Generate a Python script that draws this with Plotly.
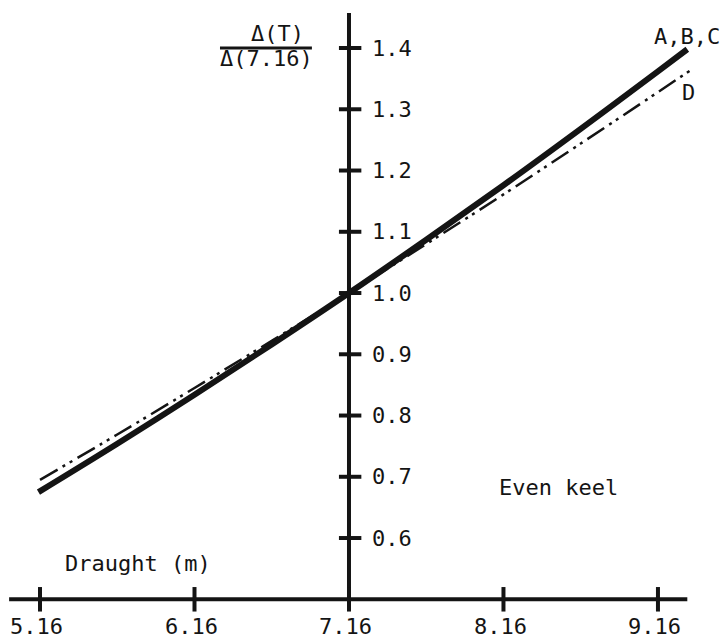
import plotly.graph_objects as go

# Displacement ratio vs. draught, even keel
draught_abc = [5.15, 5.66, 6.16, 6.66, 7.16, 7.66, 8.16, 8.66, 9.16, 9.35]
ratio_abc = [0.675, 0.754, 0.834, 0.916, 1.000, 1.087, 1.176, 1.268, 1.362, 1.398]

draught_d = [5.16, 5.66, 6.16, 6.66, 7.16, 7.66, 8.16, 8.66, 9.16, 9.39]
ratio_d = [0.695, 0.769, 0.845, 0.922, 1.000, 1.080, 1.161, 1.244, 1.328, 1.367]

x_ticks = [5.16, 6.16, 7.16, 8.16, 9.16]
x_tick_labels = ["5.16", "6.16", "7.16", "8.16", "9.16"]
y_ticks = [0.6, 0.7, 0.8, 0.9, 1.0, 1.1, 1.2, 1.3, 1.4]
y_tick_labels = ["0.6", "0.7", "0.8", "0.9", "1.0", "1.1", "1.2", "1.3", "1.4"]

x_axis_span = [4.96, 9.35]
y_axis_span = [0.5, 1.457]
x_origin = 7.16
y_origin = 0.5

INK = "#141414"
FONT = dict(family="DejaVu Sans Mono", size=22, color=INK)

fig = go.Figure()

# axis lines
fig.add_trace(go.Scatter(x=x_axis_span, y=[y_origin, y_origin], mode="lines",
                         line=dict(color=INK, width=4), hoverinfo="skip"))
fig.add_trace(go.Scatter(x=[x_origin, x_origin], y=y_axis_span, mode="lines",
                         line=dict(color=INK, width=4), hoverinfo="skip"))

# cross-shaped tick marks
tx, ty = [], []
for v in x_ticks:
    tx += [v, v, None]
    ty += [y_origin - 0.02, y_origin + 0.02, None]
fig.add_trace(go.Scatter(x=tx, y=ty, mode="lines", line=dict(color=INK, width=4),
                         hoverinfo="skip"))
tx, ty = [], []
for v in y_ticks:
    tx += [x_origin - 0.065, x_origin + 0.08, None]
    ty += [v, v, None]
fig.add_trace(go.Scatter(x=tx, y=ty, mode="lines", line=dict(color=INK, width=4),
                         hoverinfo="skip"))

# curves
fig.add_trace(go.Scatter(x=draught_abc, y=ratio_abc, mode="lines", line_shape="spline",
                         line=dict(color=INK, width=6), name="A,B,C"))
fig.add_trace(go.Scatter(x=draught_d, y=ratio_d, mode="lines", line_shape="spline",
                         line=dict(color=INK, width=2.5, dash="20px,6px,3px,5px,3px,6px"),
                         name="D"))

annotations = []
for v, t in zip(x_ticks, x_tick_labels):
    annotations.append(dict(x=v - 0.02, y=0.455, text=t, showarrow=False,
                            xanchor="center", yanchor="middle", font=FONT))
for v, t in zip(y_ticks, y_tick_labels):
    annotations.append(dict(x=7.295, y=v, text=t, showarrow=False,
                            xanchor="left", yanchor="middle", font=FONT))

annotations += [
    dict(x=5.309, y=0.559, text="Draught (m)", showarrow=False,
         xanchor="left", yanchor="middle", font=FONT),
    dict(x=8.118, y=0.682, text="Even keel", showarrow=False,
         xanchor="left", yanchor="middle", font=FONT),
    dict(x=9.12, y=1.4196, text="A,B,C", showarrow=False,
         xanchor="left", yanchor="middle", font=FONT),
    dict(x=9.302, y=1.328, text="D", showarrow=False,
         xanchor="left", yanchor="middle", font=FONT),
    dict(x=6.694, y=1.423, text="\u0394(T)", showarrow=False,
         xanchor="center", yanchor="middle", font=FONT),
    dict(x=6.629, y=1.383, text="\u0394(7.16)", showarrow=False,
         xanchor="center", yanchor="middle", font=FONT),
]

# fraction bar of the y label
fig.add_shape(type="line", x0=6.325, x1=6.92, y0=1.4, y1=1.4,
              line=dict(color=INK, width=3))

fig.update_layout(
    width=723, height=644,
    margin=dict(l=0, r=0, t=0, b=0),
    paper_bgcolor="white", plot_bgcolor="white",
    showlegend=False,
    annotations=annotations,
    xaxis=dict(range=[4.901, 9.581], visible=False, fixedrange=True),
    yaxis=dict(range=[0.427, 1.4784], visible=False, fixedrange=True),
)

fig.write_html("out.html")
